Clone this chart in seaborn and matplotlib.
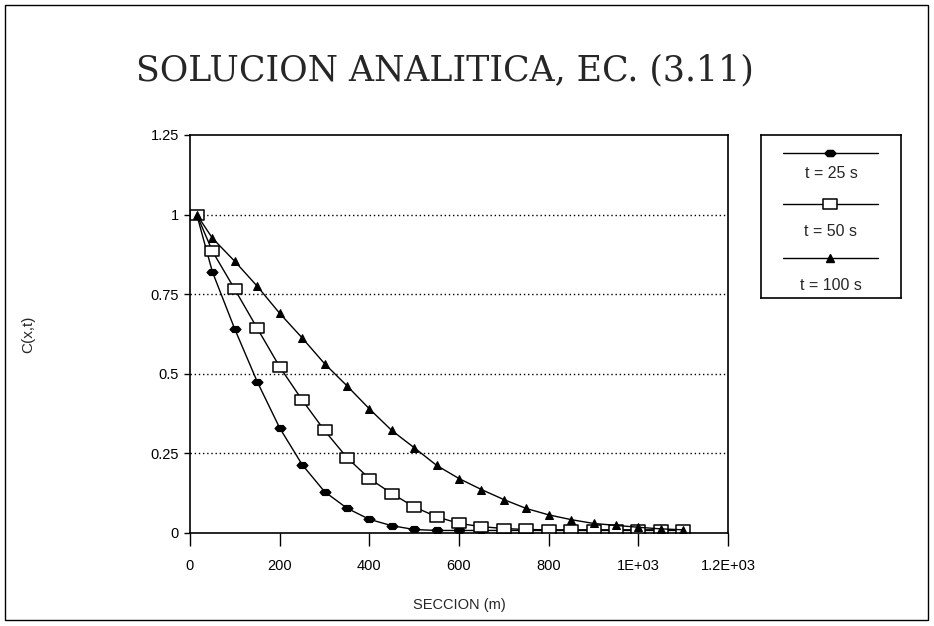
import numpy as np
import pandas as pd
import seaborn as sns
import matplotlib
matplotlib.use("Agg")
import matplotlib.pyplot as plt
from matplotlib.path import Path
from matplotlib.patches import Rectangle
from matplotlib.lines import Line2D

# Sections along the channel (m)
seccion = [15, 50, 100, 150, 200, 250, 300, 350, 400, 450, 500, 550,
           600, 650, 700, 750, 800, 850, 900, 950, 1000, 1050, 1100]

# Analytical concentration C(x,t) for three times
c_t25 = [1.0, 0.82, 0.64, 0.475, 0.33, 0.215, 0.13, 0.078, 0.043, 0.023,
         0.011, 0.008, 0.008, 0.008, 0.008, 0.008, 0.008, 0.008, 0.008,
         0.008, 0.008, 0.008, 0.008]
c_t50 = [1.0, 0.885, 0.765, 0.643, 0.522, 0.418, 0.322, 0.237, 0.171,
         0.124, 0.082, 0.051, 0.030, 0.020, 0.014, 0.011, 0.010, 0.010,
         0.010, 0.010, 0.010, 0.010, 0.010]
c_t100 = [1.0, 0.926, 0.853, 0.775, 0.69, 0.613, 0.532, 0.4625, 0.39,
          0.322, 0.268, 0.2125, 0.171, 0.1365, 0.105, 0.077, 0.057, 0.042,
          0.030, 0.024, 0.018, 0.013, 0.010]

series_labels = ["t = 25 s", "t = 50 s", "t = 100 s"]
x_ticks = [0, 200, 400, 600, 800, 1000, 1200]
x_tick_labels = ["0", "200", "400", "600", "800", "1E+03", "1.2E+03"]
y_ticks = [0, 0.25, 0.5, 0.75, 1.0, 1.25]
y_tick_labels = ["0", "0.25", "0.5", "0.75", "1", "1.25"]

sns.set_style("white")
plt.rcParams["font.family"] = ["Liberation Sans", "DejaVu Sans"]

# Marker shapes
hex_marker = Path([(-1.0, 0.0), (-0.5, 0.55), (0.5, 0.55), (1.0, 0.0),
                   (0.5, -0.55), (-0.5, -0.55), (-1.0, 0.0)],
                  [Path.MOVETO] + [Path.LINETO] * 5 + [Path.CLOSEPOLY])
box_marker = Path([(-1.4, -1.0), (1.4, -1.0), (1.4, 1.0), (-1.4, 1.0), (-1.4, -1.0)],
                  [Path.MOVETO] + [Path.LINETO] * 3 + [Path.CLOSEPOLY])

styles = [
    dict(marker=hex_marker, markersize=8, markerfacecolor="black", markeredgecolor="black"),
    dict(marker=box_marker, markersize=10, markerfacecolor="white", markeredgecolor="black",
         markeredgewidth=1.1),
    dict(marker="^", markersize=5.5, markerfacecolor="black", markeredgecolor="black"),
]

fig = plt.figure(figsize=(9.34, 6.26), dpi=100)
ax = fig.add_axes([190 / 934, 1 - 533 / 626, 538 / 934, 398 / 626])

df = pd.DataFrame({"x": seccion, "t25": c_t25, "t50": c_t50, "t100": c_t100})
for col, st in zip(["t25", "t50", "t100"], styles):
    sns.lineplot(data=df, x="x", y=col, ax=ax, color="black", linewidth=1.0, **st)

ax.set_xlim(0, 1200)
ax.set_ylim(0, 1.25)
ax.set_xticks(x_ticks)
ax.set_xticklabels(x_tick_labels)
ax.set_yticks(y_ticks)
ax.set_yticklabels(y_tick_labels)
for yv in y_ticks[1:-1]:
    ax.axhline(yv, color="black", linestyle=(0, (1, 2)), linewidth=1.0, zorder=0)

for s in ax.spines.values():
    s.set_visible(True)
    s.set_color("black")
    s.set_linewidth(1.2)
ax.tick_params(axis="x", direction="out", length=9, width=1.0, pad=10,
               labelsize=10.5, colors="black", bottom=True)
ax.tick_params(axis="y", direction="out", length=4, width=1.0, pad=4,
               labelsize=10.5, colors="black", left=True)
ax.set_xlabel("")
ax.set_ylabel("")

fig.text(459 / 934, 1 - 605 / 626, "SECCION (m)", ha="center", va="center", fontsize=10.5)
fig.text(28 / 934, 1 - 334 / 626, "C(x,t)", ha="center", va="center", rotation=90, fontsize=11)
fig.text(445 / 934, 1 - 70 / 626, "SOLUCION ANALITICA, EC. (3.11)", ha="center", va="center",
         fontsize=25, family=["DejaVu Serif"])

# Legend box: sample line above its caption
leg = fig.add_axes([761 / 934, 1 - 298 / 626, 140 / 934, 163 / 626])
leg.set_xlim(761, 901)
leg.set_ylim(298, 135)
leg.set_xticks([])
leg.set_yticks([])
for s in leg.spines.values():
    s.set_color("black")
    s.set_linewidth(1.2)
line_y = [153, 204, 258]
text_y = [173, 232, 286]
for ly, ty, lab, st in zip(line_y, text_y, series_labels, styles):
    leg.add_line(Line2D([783, 830, 878], [ly, ly, ly], color="black", linewidth=1.0,
                        markevery=[1], **st))
    leg.text(831, ty, lab, ha="center", va="center", fontsize=11.5)

# Outer frame
fig.patches.append(Rectangle((5 / 934, 1 - 620 / 626), 923 / 934, 615 / 626,
                             transform=fig.transFigure, fill=False,
                             edgecolor="black", linewidth=1.0))

fig.savefig("out.png", dpi=100)
